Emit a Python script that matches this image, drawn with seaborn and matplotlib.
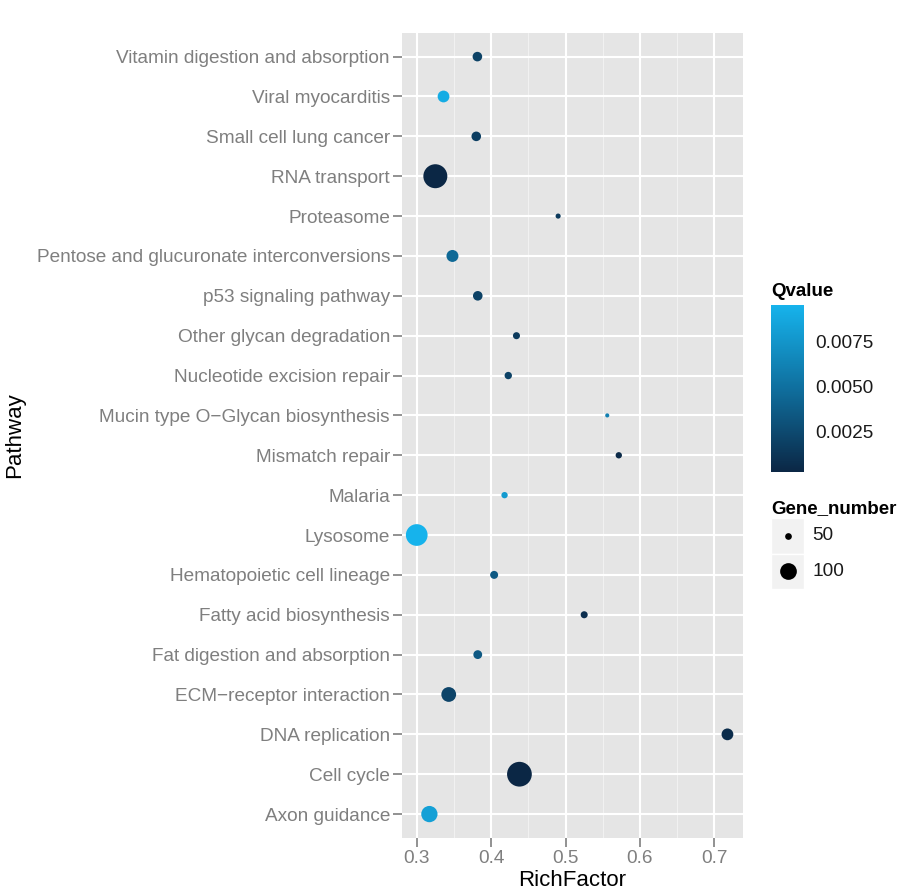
import numpy as np
import pandas as pd
import matplotlib
matplotlib.use("Agg")
import matplotlib.pyplot as plt
from matplotlib.colors import LinearSegmentedColormap, Normalize
from matplotlib.cm import ScalarMappable
from matplotlib.ticker import MultipleLocator
import seaborn as sns

# KEGG pathway enrichment (listed bottom to top)
pathways = [
    "Axon guidance",
    "Cell cycle",
    "DNA replication",
    "ECM\u2212receptor interaction",
    "Fat digestion and absorption",
    "Fatty acid biosynthesis",
    "Hematopoietic cell lineage",
    "Lysosome",
    "Malaria",
    "Mismatch repair",
    "Mucin type O\u2212Glycan biosynthesis",
    "Nucleotide excision repair",
    "Other glycan degradation",
    "p53 signaling pathway",
    "Pentose and glucuronate interconversions",
    "Proteasome",
    "RNA transport",
    "Small cell lung cancer",
    "Viral myocarditis",
    "Vitamin digestion and absorption",
]
rich_factor = [0.317, 0.438, 0.7175, 0.343, 0.382, 0.525, 0.404, 0.300, 0.418, 0.5715,
               0.556, 0.423, 0.434, 0.382, 0.348, 0.490, 0.325, 0.380, 0.336, 0.3815]
q_value = [0.0082, 0.0003, 0.0006, 0.0022, 0.0035, 0.0008, 0.0035, 0.0095, 0.0078, 0.0005,
           0.0060, 0.0020, 0.0015, 0.0020, 0.0045, 0.0015, 0.0003, 0.0018, 0.0090, 0.0020]
gene_number = [97, 171, 70, 87, 57, 51, 54, 141, 49, 49,
               44, 52, 51, 60, 71, 46, 163, 60, 70, 60]

size_breaks = [50, 100]
q_breaks = [0.0025, 0.0050, 0.0075]

df = pd.DataFrame({"Pathway": pathways, "RichFactor": rich_factor,
                   "Qvalue": q_value, "Gene_number": gene_number})

# marker area grows linearly with gene count
def marker_area(n):
    return 2.43 * (n - 40.4)

cmap = LinearSegmentedColormap.from_list("q", ["#0B2745", "#0F6F9E", "#16B3EC"])
q_norm = Normalize(vmin=min(q_value), vmax=max(q_value))

sns.set_theme(style="white")
plt.rcParams["font.family"] = ["Liberation Sans", "DejaVu Sans"]

W, H = 906, 894
fig = plt.figure(figsize=(W / 100, H / 100), dpi=100)
fig.patch.set_facecolor("white")

ax = fig.add_axes([401.7 / W, 1 - 838 / H, (742.7 - 401.7) / W, (838 - 32.7) / H])
ax.set_facecolor("#E5E5E5")

sizes = {n: marker_area(n) for n in sorted(set(gene_number))}
sns.scatterplot(data=df, x="RichFactor", y="Pathway", hue="Qvalue", size="Gene_number",
                palette=cmap, hue_norm=q_norm, sizes=sizes, linewidth=0,
                legend=False, ax=ax, zorder=3)

ax.set_xlim(0.2798, 0.738)
ax.set_ylim(-0.6, len(pathways) - 0.4)
ax.xaxis.set_major_locator(MultipleLocator(0.1))
ax.xaxis.set_minor_locator(MultipleLocator(0.05))
ax.grid(which="major", color="white", linewidth=1.5, zorder=0)
ax.grid(which="minor", axis="x", color="#F2F2F2", linewidth=0.7, zorder=0)
ax.set_axisbelow(True)
for s in ax.spines.values():
    s.set_visible(False)
ax.tick_params(axis="both", which="major", length=6.5, width=1.2, color="#7F7F7F",
               labelcolor="#7F7F7F", labelsize=13.7, pad=2, left=True, bottom=True)
ax.tick_params(axis="both", which="minor", length=0)
ax.set_xticklabels([f"{v:.1f}" for v in ax.get_xticks()])
ax.set_xlabel("RichFactor", fontsize=16, color="black", labelpad=2)
ax.set_ylabel("Pathway", fontsize=16, color="black", labelpad=8)

# Qvalue colour bar
fig.text(771 / W, 1 - 291 / H, "Qvalue", fontsize=13.5, fontweight="bold",
         ha="left", va="center", color="black")
cax = fig.add_axes([771 / W, 1 - 471.7 / H, 33 / W, (471.7 - 305) / H])
cb = fig.colorbar(ScalarMappable(norm=q_norm, cmap=cmap), cax=cax)
cb.outline.set_visible(False)
cb.set_ticks(q_breaks)
cb.set_ticklabels([f"{v:.4f}" for v in q_breaks])
cax.yaxis.set_ticks_position("both")
cax.tick_params(direction="in", length=5, width=1, color="white",
                labelsize=13.7, labelcolor="#1A1A1A", pad=8)

# Gene_number size key
fig.text(771 / W, 1 - 509 / H, "Gene_number", fontsize=13.5, fontweight="bold",
         ha="left", va="center", color="black")
kax = fig.add_axes([771 / W, 1 - 589 / H, 33 / W, 71 / H])
kax.set_xlim(0, 1)
kax.set_ylim(0, 2)
kax.axis("off")
for i, n in enumerate(size_breaks):
    yk = 1.5 - i
    kax.add_patch(plt.Rectangle((0, yk - 0.5), 1, 1, facecolor="#F2F2F2",
                                edgecolor="white", linewidth=1))
    kax.scatter([0.5], [yk], s=marker_area(n), color="black", linewidth=0, zorder=3)
    kax.text(1.25, yk, str(n), fontsize=13.7, color="#1A1A1A", ha="left", va="center")

fig.savefig("out.png", dpi=100, facecolor="white")
